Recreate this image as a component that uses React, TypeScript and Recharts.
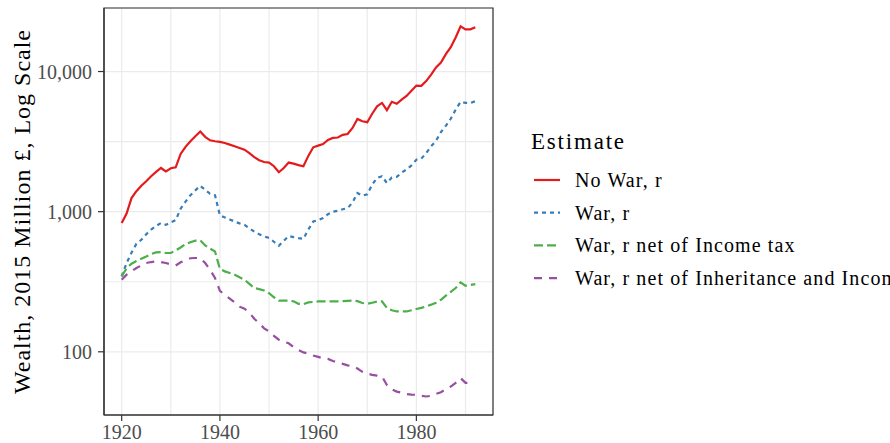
import { LineChart, Line, XAxis, YAxis, CartesianGrid, Legend, ReferenceArea } from 'recharts';

const FONT = 'Liberation Serif, Times New Roman, serif';

const YEARS = [
  1920, 1921, 1922, 1923, 1924, 1925, 1926, 1927, 1928, 1929,
  1930, 1931, 1932, 1933, 1934, 1935, 1936, 1937, 1938, 1939,
  1940, 1941, 1942, 1943, 1944, 1945, 1946, 1947, 1948, 1949,
  1950, 1951, 1952, 1953, 1954, 1955, 1956, 1957, 1958, 1959,
  1960, 1961, 1962, 1963, 1964, 1965, 1966, 1967, 1968, 1969,
  1970, 1971, 1972, 1973, 1974, 1975, 1976, 1977, 1978, 1979,
  1980, 1981, 1982, 1983, 1984, 1985, 1986, 1987, 1988, 1989,
  1990, 1991, 1992,
];

const NO_WAR_R = [
  830, 970, 1250, 1400, 1530, 1650, 1790, 1920, 2050, 1940,
  2040, 2070, 2580, 2900, 3180, 3450, 3730, 3420, 3230, 3180,
  3150, 3090, 3010, 2930, 2850, 2770, 2620, 2450, 2330, 2260,
  2240, 2110, 1910, 2050, 2240, 2200, 2150, 2110, 2500, 2880,
  2960, 3040, 3250, 3360, 3380, 3530, 3580, 3960, 4590, 4420,
  4350, 5000, 5650, 5970, 5300, 6080, 5880, 6300, 6700, 7300,
  7940, 7900, 8550, 9500, 10700, 11600, 13300, 14900, 17500, 21000,
  20000, 20000, 20700,
];

const WAR_R = [
  345, 430, 510, 590, 630, 690, 745, 790, 830, 805,
  840, 870, 1050, 1180, 1310, 1420, 1530, 1430, 1340, 1310,
  940, 910, 880, 850, 825, 805, 760, 720, 690, 665,
  650, 610, 572, 620, 670, 658, 648, 640, 745, 850,
  870, 900, 960, 1000, 1015, 1040, 1060, 1160, 1360, 1300,
  1330, 1560, 1740, 1790, 1600, 1750, 1770, 1900, 2000, 2140,
  2350, 2390, 2620, 2930, 3200, 3700, 4100, 4600, 5350, 6080,
  5970, 5970, 6140,
];

const WAR_NET_INCOME = [
  345, 395, 425, 445, 462, 479, 498, 512, 515, 507,
  507, 530, 555, 588, 605, 621, 624, 574, 545, 520,
  390, 375, 365, 355, 340, 327, 305, 285, 280, 274,
  262, 245, 232, 232, 232, 229, 220, 219, 225, 227,
  229, 229, 229, 229, 229, 230, 231, 232, 230, 223,
  220, 224, 228, 229, 205, 198, 194, 194, 194, 198,
  202, 206, 211, 217, 224, 235, 252, 268, 285, 313,
  296, 300, 304,
];

const WAR_NET_INHERIT_INCOME = [
  327, 355, 375, 396, 413, 430, 437, 442, 437, 430,
  420, 413, 435, 452, 465, 467, 467, 430, 385, 336,
  272, 255, 240, 225, 210, 203, 190, 172, 160, 147,
  140, 130, 122, 118, 115, 108, 103, 99, 97, 94,
  92, 90, 89, 86, 84, 82, 80, 79, 76, 72,
  70, 68.5, 67.7, 66.6, 58, 54, 52, 51, 50, 49.5,
  49.3, 48.5, 48, 48.5, 50, 51.5, 54, 56.5, 60, 65,
  60, 60, null,
];

const X_TICKS = [1920, 1940, 1960, 1980];
const X_GRID = [1920, 1930, 1940, 1950, 1960, 1970, 1980, 1990];
const Y_TICKS = [100, 1000, 10000];
const Y_GRID = [100, Math.pow(10, 2.5), 1000, Math.pow(10, 3.5), 10000];
const X_DOMAIN: [number, number] = [1916.4, 1995.6];
const Y_DOMAIN: [number, number] = [35.4, 28400];

const SERIES = [
  { key: 'noWar', name: 'No War, r', color: '#E41A1C', dash: undefined, values: NO_WAR_R },
  { key: 'war', name: 'War, r', color: '#377EB8', dash: '4 4', values: WAR_R },
  { key: 'warIncome', name: 'War, r net of Income tax', color: '#4DAF4A', dash: '9 4', values: WAR_NET_INCOME },
  { key: 'warInherit', name: 'War, r net of Inheritance and Income tax', color: '#984EA3', dash: '8 7', values: WAR_NET_INHERIT_INCOME },
];

const data = YEARS.map((year, i) => {
  const row: Record<string, number | null> = { year };
  SERIES.forEach((s) => {
    row[s.key] = s.values[i];
  });
  return row;
});

function LegendBox() {
  return (
    <svg width={362} height={180} style={{ display: 'block' }}>
      <text x={3} y={29} fontSize={23} letterSpacing={1.8} fill="#000" fontFamily={FONT}>
        Estimate
      </text>
      {SERIES.map((s, i) => {
        const cy = 60 + i * 32.7;
        return (
          <g key={s.key}>
            <line x1={6} x2={32} y1={cy} y2={cy} stroke={s.color} strokeWidth={2.2} strokeDasharray={s.dash} />
            <text x={47} y={cy + 7} fontSize={20} letterSpacing={1.1} fill="#000" fontFamily={FONT}>
              {s.name}
            </text>
          </g>
        );
      })}
    </svg>
  );
}

export default function App() {
  return (
    <div style={{ position: 'absolute', left: 0, top: 0, width: 890, height: 443, overflow: 'hidden', background: '#fff' }}>
      <LineChart width={890} height={443} data={data} margin={{ top: 8, right: 397, bottom: 0, left: 0 }}>
        <XAxis xAxisId="grid" dataKey="year" type="number" domain={X_DOMAIN} ticks={X_GRID} allowDataOverflow hide />
        <YAxis yAxisId="grid" scale="log" type="number" domain={Y_DOMAIN} ticks={Y_GRID} allowDataOverflow hide />
        <CartesianGrid xAxisId="grid" yAxisId="grid" stroke="#EBEBEB" strokeWidth={1.2} />
        <XAxis
          dataKey="year"
          type="number"
          domain={X_DOMAIN}
          ticks={X_TICKS}
          allowDataOverflow
          height={28}
          tickSize={6}
          tickMargin={4}
          axisLine={{ stroke: '#333333', strokeWidth: 1.2 }}
          tickLine={{ stroke: '#333333', strokeWidth: 1.2 }}
          tick={{ fill: '#4D4D4D', fontSize: 20, fontFamily: FONT }}
        />
        <YAxis
          scale="log"
          type="number"
          domain={Y_DOMAIN}
          ticks={Y_TICKS}
          allowDataOverflow
          width={104}
          tickSize={6}
          tickMargin={6}
          tickFormatter={(v: number) => v.toLocaleString('en-US')}
          axisLine={{ stroke: '#333333', strokeWidth: 1.2 }}
          tickLine={{ stroke: '#333333', strokeWidth: 1.2 }}
          tick={{ fill: '#4D4D4D', fontSize: 20, fontFamily: FONT }}
          label={{
            value: 'Wealth, 2015 Million £, Log Scale',
            angle: -90,
            position: 'insideLeft',
            offset: 21,
            style: { textAnchor: 'middle', fontSize: 24, letterSpacing: 1, fill: '#000', fontFamily: FONT },
          }}
        />
        {SERIES.map((s) => (
          <Line
            key={s.key}
            dataKey={s.key}
            name={s.name}
            stroke={s.color}
            strokeWidth={2.2}
            strokeDasharray={s.dash}
            dot={false}
            activeDot={false}
            isAnimationActive={false}
          />
        ))}
        <ReferenceArea
          x1={X_DOMAIN[0]}
          x2={X_DOMAIN[1]}
          y1={Y_DOMAIN[0]}
          y2={Y_DOMAIN[1]}
          fill="none"
          stroke="#333333"
          strokeWidth={1.2}
        />
        <Legend
          layout="vertical"
          align="center"
          verticalAlign="middle"
          content={() => <LegendBox />}
          wrapperStyle={{ left: 528, top: 120, width: 362, height: 180 }}
        />
      </LineChart>
    </div>
  );
}
